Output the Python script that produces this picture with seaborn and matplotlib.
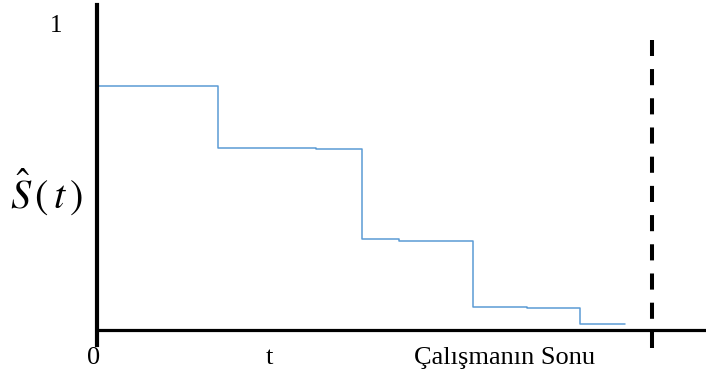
import matplotlib
matplotlib.use("Agg")
import matplotlib.pyplot as plt
import seaborn as sns
import pandas as pd

# Kaplan-Meier style survival estimate (step function)
times = [0.0, 2.18, 3.95, 4.77, 5.45, 6.77, 7.75, 8.70, 9.51]
survival = [0.80, 0.597, 0.594, 0.297, 0.293, 0.075, 0.072, 0.020, 0.020]
study_end = 10.0

x_labels = ["0", "t", "Çalışmanın Sonu"]
x_label_pos = [-0.07, 3.1, 7.34]

sns.set_style("white")
plt.rcParams["font.family"] = ["Liberation Serif", "DejaVu Serif"]
plt.rcParams["mathtext.fontset"] = "stix"
plt.rcParams["text.color"] = "black"

df = pd.DataFrame({"t": times, "S": survival})

fig = plt.figure(figsize=(7.06, 3.74), dpi=100)
ax = fig.add_axes([0, 0, 1, 1])

sns.lineplot(data=df, x="t", y="S", ax=ax, drawstyle="steps-post",
             color="#5B9BD5", linewidth=1.1, estimator=None)

ax.set_xlim(-1.748, 10.973)
ax.set_ylim(-0.144, 1.082)

# Axes drawn as thick black lines crossing at the origin
for side in ["top", "right"]:
    ax.spines[side].set_visible(False)
ax.spines["left"].set_position(("data", 0))
ax.spines["bottom"].set_position(("data", 0))
ax.spines["left"].set_bounds(-0.049, 1.066)
ax.spines["bottom"].set_bounds(0, 10.973)
ax.spines["left"].set_linewidth(3.0)
ax.spines["bottom"].set_linewidth(2.3)
ax.spines["left"].set_color("black")
ax.spines["bottom"].set_color("black")
ax.set_xticks([])
ax.set_yticks([])
ax.set_xlabel("")
ax.set_ylabel("")

# End of study marker
ax.plot([study_end, study_end], [-0.059, 0.951], color="black",
        linewidth=2.9, linestyle=(0, (4, 3.25)), solid_capstyle="butt")

ax.text(-0.74, 0.997, "1", fontsize=18, ha="center", va="center")
for lab, xp in zip(x_labels, x_label_pos):
    ax.text(xp, -0.093, lab, fontsize=19, ha="center", va="center")

ax.text(-1.56, 0.455, r"$\hat{S}\,(\,t\,)$", fontsize=29, ha="left",
        va="center", color="black")

fig.savefig("out.png", dpi=100)
